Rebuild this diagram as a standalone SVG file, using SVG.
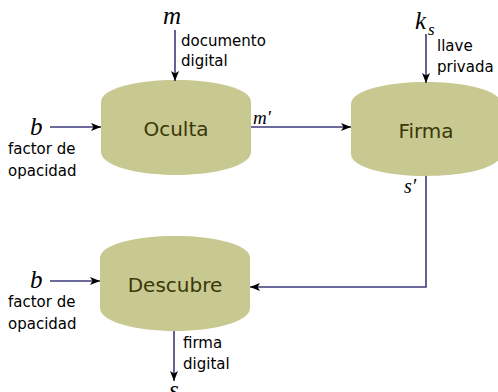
<svg xmlns="http://www.w3.org/2000/svg" width="498" height="392" viewBox="0 0 498 392">
  <defs>
    <style>
      .node { fill: #c8c891; }
      .nlabel { font-family: "DejaVu Sans", sans-serif; font-size: 20px; fill: #3a3808; text-anchor: middle; }
      .lbl { font-family: "DejaVu Sans", sans-serif; font-size: 15px; fill: #000; }
      .math { font-family: "Liberation Serif", serif; font-style: italic; font-size: 25px; fill: #000; }
      .sub { font-family: "Liberation Serif", serif; font-style: italic; font-size: 17px; fill: #000; }
      .edge { stroke: #3c3a78; stroke-width: 1.6; fill: none; marker-end: url(#tip); }
    </style>
    <marker id="tip" viewBox="0 0 10 8" refX="10" refY="4" markerWidth="10" markerHeight="8" markerUnits="userSpaceOnUse" orient="auto">
      <path d="M0,0 L10,4 L0,8 L2.5,4 Z" fill="#000"/>
    </marker>
  </defs>

  <!-- process blocks -->
  <g id="oculta">
    <path class="node" d="M101,102 C101,88 138,80 176,80 C214,80 251,88 251,102 L251,152 C251,166 214,175 176,175 C138,175 101,166 101,152 Z"/>
    <text class="nlabel" x="176" y="136">Oculta</text>
  </g>
  <g id="firma">
    <path class="node" d="M351,104 C351,90 388,82 426,82 C464,82 501,90 501,104 L501,154 C501,168 464,176 426,176 C388,176 351,168 351,154 Z"/>
    <text class="nlabel" x="426" y="138">Firma</text>
  </g>
  <g id="descubre">
    <path class="node" d="M100,258 C100,244 137,236 175,236 C213,236 250,244 250,258 L250,308 C250,322 213,331 175,331 C137,331 100,322 100,308 Z"/>
    <text class="nlabel" x="175" y="292">Descubre</text>
  </g>

  <!-- connectors -->
  <g id="connectors">
    <line class="edge" x1="175" y1="30" x2="175" y2="81"/>
    <line class="edge" x1="50" y1="127" x2="101" y2="127"/>
    <line class="edge" x1="251" y1="127" x2="351" y2="127"/>
    <line class="edge" x1="426" y1="34" x2="426" y2="83"/>
    <polyline class="edge" points="426,176 426,287 250,287"/>
    <line class="edge" x1="50" y1="281" x2="100" y2="281"/>
    <line class="edge" x1="174" y1="331" x2="174" y2="381"/>
  </g>

  <!-- inputs / outputs labels -->
  <g id="labels">
    <text class="math" x="163" y="24">m</text>
    <text class="lbl" x="181" y="46">documento</text>
    <text class="lbl" x="181" y="66">digital</text>

    <text class="math" x="30" y="135">b</text>
    <text class="lbl" x="8" y="154">factor de</text>
    <text class="lbl" x="8" y="176">opacidad</text>

    <text class="math" x="253" y="124" style="font-size:19px">m′</text>

    <text class="math" x="415" y="29">k</text>
    <text class="sub" x="428" y="35">s</text>
    <text class="lbl" x="437" y="51">llave</text>
    <text class="lbl" x="437" y="72">privada</text>

    <text class="math" x="404" y="193" style="font-size:20px">s′</text>

    <text class="math" x="30" y="288">b</text>
    <text class="lbl" x="8" y="307">factor de</text>
    <text class="lbl" x="8" y="329">opacidad</text>

    <text class="lbl" x="183" y="348">firma</text>
    <text class="lbl" x="183" y="369">digital</text>
    <text class="math" x="169" y="398">s</text>
  </g>
</svg>
